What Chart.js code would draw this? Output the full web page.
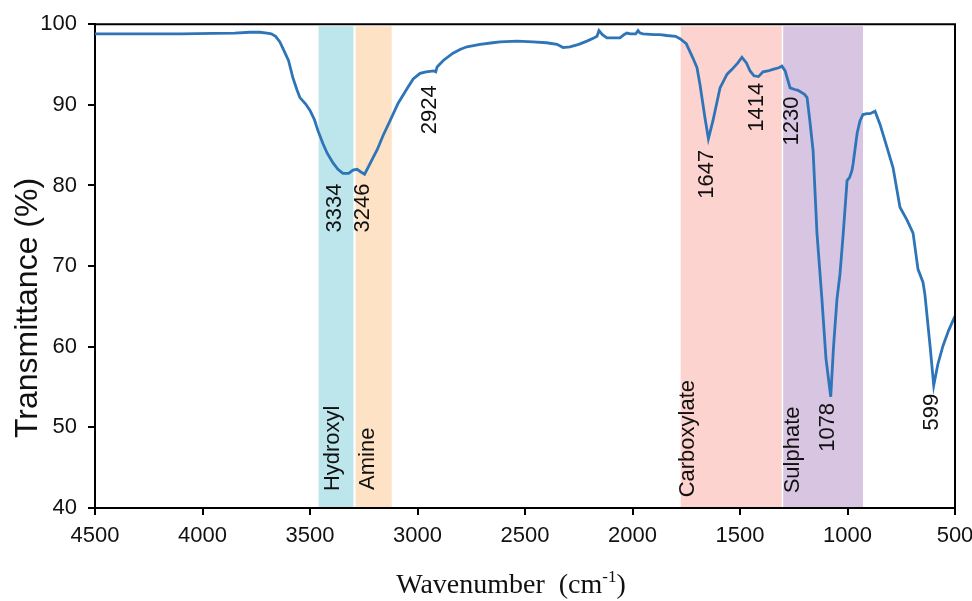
<!DOCTYPE html>
<html>
<head>
<meta charset="utf-8">
<script src="https://cdn.jsdelivr.net/npm/chart.js@4"></script>
<style>
  html, body { margin: 0; padding: 0; background: #fff; }
  #wrap { width: 972px; height: 601px; }
</style>
</head>
<body>
<div id="wrap"><canvas id="ftirChart" width="972" height="601"></canvas></div>
<script>
// Spectrum
const wavenumbers = [4500, 4300, 4100, 3950, 3850, 3780, 3733, 3700, 3680, 3660, 3640, 3626, 3600, 3579, 3560, 3547, 3520, 3500, 3480, 3463, 3440, 3420, 3393, 3370, 3347, 3320, 3300, 3281, 3265, 3246, 3225, 3200, 3188, 3160, 3128, 3090, 3049, 3020, 2988, 2960, 2924, 2915, 2909, 2880, 2835, 2800, 2770, 2709, 2650, 2616, 2537, 2463, 2400, 2351, 2323, 2291, 2250, 2212, 2180, 2165, 2156, 2140, 2119, 2080, 2058, 2040, 2026, 2010, 1998, 1985, 1974, 1965, 1951, 1900, 1872, 1840, 1800, 1779, 1750, 1719, 1700, 1686, 1663, 1647, 1626, 1593, 1560, 1537, 1510, 1491, 1470, 1453, 1435, 1414, 1393, 1370, 1347, 1320, 1305, 1290, 1267, 1245, 1230, 1200, 1188, 1175, 1160, 1142, 1119, 1100, 1078, 1065, 1049, 1035, 1020, 1002, 990, 979, 974, 955, 942, 928, 910, 895, 872, 849, 816, 788, 756, 723, 695, 672, 649, 640, 616, 599, 580, 556, 530, 500];
const transmittance = [98.8, 98.8, 98.8, 98.85, 98.9, 99.0, 99.0, 98.9, 98.8, 98.5, 97.8, 97.0, 95.5, 93.3, 91.8, 90.9, 90.1, 89.3, 88.2, 86.8, 85.2, 84.0, 82.8, 82.0, 81.5, 81.5, 81.9, 82.0, 81.7, 81.4, 82.5, 83.8, 84.4, 86.2, 88.0, 90.2, 92.0, 93.2, 93.9, 94.1, 94.2, 94.1, 94.7, 95.5, 96.4, 96.9, 97.2, 97.5, 97.7, 97.8, 97.9, 97.8, 97.7, 97.5, 97.1, 97.2, 97.5, 97.9, 98.3, 98.5, 99.2, 98.7, 98.3, 98.3, 98.3, 98.7, 98.9, 98.8, 98.8, 98.8, 99.2, 98.9, 98.8, 98.7, 98.7, 98.6, 98.5, 98.2, 97.6, 95.8, 94.6, 92.5, 88.4, 85.8, 88.0, 92.1, 93.8, 94.4, 95.2, 95.9, 95.2, 94.2, 93.6, 93.5, 94.1, 94.2, 94.4, 94.6, 94.8, 94.2, 92.1, 91.9, 91.8, 91.3, 90.9, 88.0, 84.3, 74.1, 65.9, 58.5, 53.8, 60.0, 65.9, 69.0, 74.0, 80.6, 81.0, 81.9, 82.7, 86.5, 88.0, 88.8, 88.9, 88.9, 89.2, 87.6, 84.7, 82.2, 77.3, 75.7, 74.1, 69.6, 68.0, 66.5, 60.1, 55.2, 57.8, 60.1, 62.0, 63.8];

// Peak labels
const peakLabels = ['3334', '3246', '2924', '1647', '1414', '1230', '1078', '599'];
// Functional group bands
const bandNames = ['Hydroxyl', 'Amine', 'Carboxylate', 'Sulphate'];
const bandFrom = [3460, 3288, 1776, 1299];
const bandTo = [3298, 3120, 1306, 928];

// Axis ticks
const xMin = 500, xMax = 4500, xStep = 500;
const yMin = 40, yMax = 100, yStep = 10;

// Styling / placement
const bandColors = ['#bde5ec', '#fde2c6', '#fdd3d0', '#d8c5e1'];
const peakLabelAt = [[3384, 77.2], [3253, 77.2], [2942, 89.4], [1653, 81.4], [1421, 89.7], [1258, 88.0], [1091, 50.0], [607, 51.9]];
const bandLabelAt = [[3393, 47.4], [3230, 46.1], [1742, 48.6], [1253, 47.2]];
const sansFont = "'Liberation Sans', Arial, sans-serif";
const lineColor = '#2e74b8';

const points = wavenumbers.map((w, i) => ({ x: w, y: transmittance[i] }));

function vText(ctx, text, x, y, font) {
  ctx.save();
  ctx.translate(x, y);
  ctx.rotate(-Math.PI / 2);
  ctx.font = font;
  ctx.fillStyle = '#111';
  ctx.textAlign = 'center';
  ctx.textBaseline = 'middle';
  ctx.fillText(text, 0, 0);
  ctx.restore();
}

const bandsPlugin = {
  id: 'bands',
  beforeDatasetsDraw(chart) {
    const { ctx, chartArea, scales } = chart;
    ctx.save();
    bandNames.forEach((name, i) => {
      const x1 = scales.x.getPixelForValue(bandFrom[i]);
      const x2 = scales.x.getPixelForValue(bandTo[i]);
      ctx.fillStyle = bandColors[i];
      ctx.fillRect(x1, chartArea.top + 2, x2 - x1, chartArea.bottom - chartArea.top - 3);
    });
    ctx.restore();
    bandNames.forEach((name, i) => {
      vText(ctx, name, scales.x.getPixelForValue(bandLabelAt[i][0]), scales.y.getPixelForValue(bandLabelAt[i][1]), '22px ' + sansFont);
    });
  }
};

const labelsPlugin = {
  id: 'labels',
  afterDatasetsDraw(chart) {
    const { ctx, scales } = chart;
    peakLabels.forEach((t, i) => {
      vText(ctx, t, scales.x.getPixelForValue(peakLabelAt[i][0]), scales.y.getPixelForValue(peakLabelAt[i][1]), '22px ' + sansFont);
    });
  },
  afterDraw(chart) {
    const { ctx, chartArea } = chart;
    ctx.save();
    // frame top and right
    ctx.strokeStyle = '#000';
    ctx.lineWidth = 2;
    ctx.beginPath();
    ctx.moveTo(chartArea.left, chartArea.top);
    ctx.lineTo(chartArea.right, chartArea.top);
    ctx.lineTo(chartArea.right, chartArea.bottom);
    ctx.stroke();
    // y title
    vText(ctx, 'Transmittance (%)', 28, 308, '32px ' + sansFont);
    // x title with superscript
    ctx.fillStyle = '#111';
    ctx.textBaseline = 'alphabetic';
    ctx.textAlign = 'left';
    const big = "28px 'Liberation Serif', 'Times New Roman', serif";
    const small = "17px 'Liberation Serif', 'Times New Roman', serif";
    const part1 = 'Wavenumber  (cm';
    ctx.font = big;
    const w1 = ctx.measureText(part1).width;
    ctx.font = small;
    const w2 = ctx.measureText('-1').width;
    ctx.font = big;
    const w3 = ctx.measureText(')').width;
    let x = 511 - (w1 + w2 + w3) / 2;
    const base = 593;
    ctx.fillText(part1, x, base);
    x += w1;
    ctx.font = small;
    ctx.fillText('-1', x, base - 11);
    x += w2;
    ctx.font = big;
    ctx.fillText(')', x, base);
    ctx.restore();
  }
};

const ctx = document.getElementById('ftirChart').getContext('2d');
const ftirChart = new Chart(ctx, {
  type: 'line',
  data: {
    datasets: [{
      label: 'Transmittance',
      data: points,
      borderColor: lineColor,
      borderWidth: 2.8,
      pointRadius: 0,
      tension: 0,
      fill: false
    }]
  },
  options: {
    responsive: false,
    animation: false,
    layout: { padding: { top: 22, right: 17, left: 0, bottom: 0 } },
    plugins: {
      legend: { display: false },
      tooltip: { enabled: false }
    },
    scales: {
      x: {
        type: 'linear',
        reverse: true,
        min: xMin,
        max: xMax,
        ticks: {
          stepSize: xStep,
          color: '#111',
          font: { size: 22, family: sansFont },
          padding: 8,
          maxRotation: 0,
          callback: v => String(v)
        },
        grid: { drawOnChartArea: false, drawTicks: true, tickLength: 7, color: '#000', lineWidth: 2 },
        border: { color: '#000', width: 2 },
        afterFit(scale) { scale.height = 93; scale.paddingLeft = 0; scale.paddingRight = 0; }
      },
      y: {
        min: yMin,
        max: yMax,
        ticks: {
          stepSize: yStep,
          color: '#111',
          font: { size: 22, family: sansFont },
          padding: 11
        },
        grid: { drawOnChartArea: false, drawTicks: true, tickLength: 7, color: '#000', lineWidth: 2 },
        border: { color: '#000', width: 2 },
        afterFit(scale) { scale.width = 95; }
      }
    }
  },
  plugins: [bandsPlugin, labelsPlugin]
});
</script>
</body>
</html>
